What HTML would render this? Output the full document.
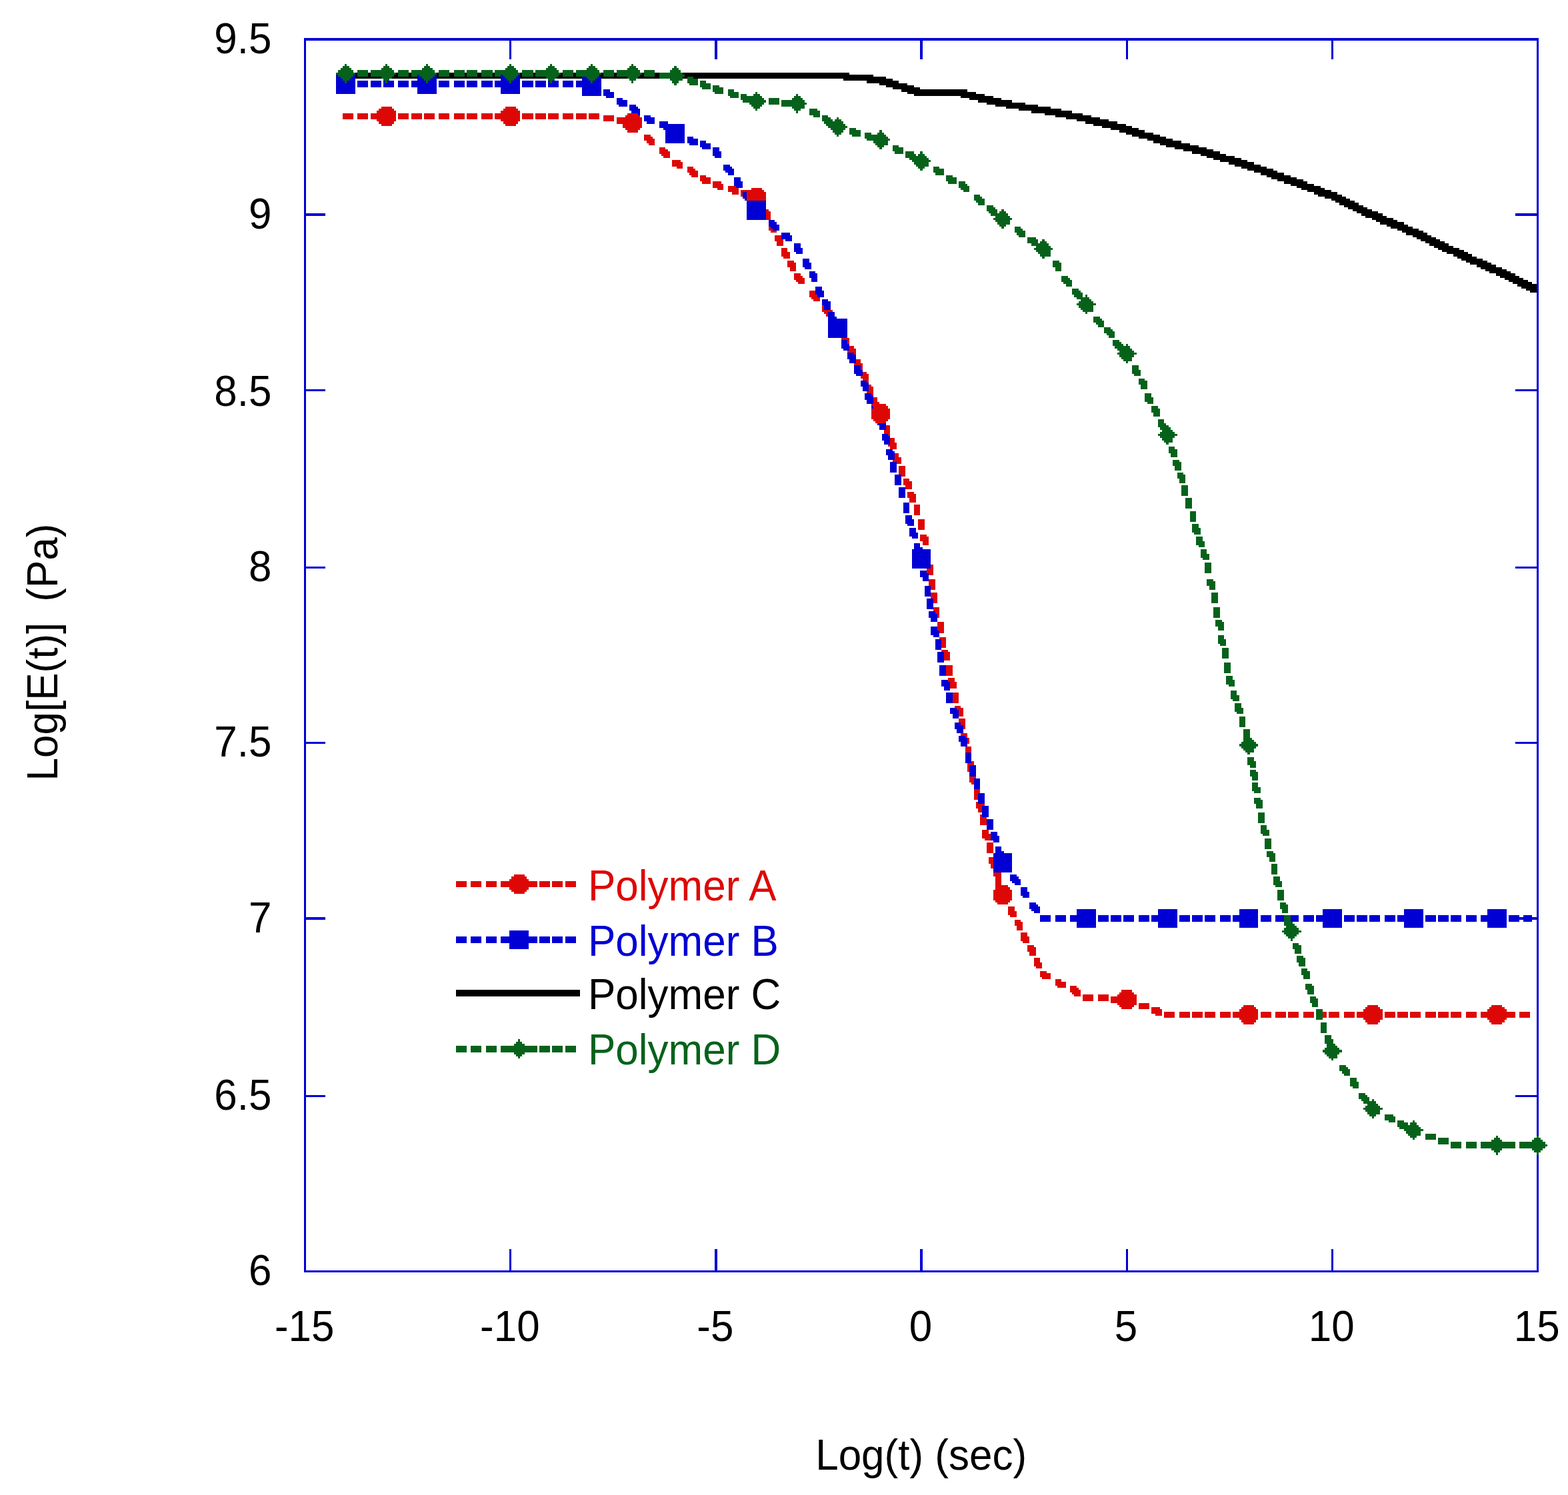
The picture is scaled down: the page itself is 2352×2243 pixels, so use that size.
<!DOCTYPE html>
<html lang="en">
<head>
<meta charset="utf-8">
<title>Log[E(t)] vs Log(t)</title>
<style>
html,body{margin:0;padding:0;background:#fff;}
body{width:2352px;height:2243px;overflow:hidden;}
svg{display:block;}
text{font-family:"Liberation Sans",Arial,Helvetica,sans-serif;font-size:62px;fill:#000;}
</style>
</head>
<body>
<svg width="2352" height="2243" viewBox="0 0 2352 2243">
<rect width="2352" height="2243" fill="#fff"/>
<g shape-rendering="crispEdges">
<path fill="#0000d4" d="M456.1 57.3H2307.91V60.51H456.1ZM456.1 1905.9H2307.91V1909.11H456.1ZM456.1 60.51H459.31V320.47H456.1ZM456.1 323.68H459.31V583.64H456.1ZM456.1 586.85H459.31V850.02H456.1ZM456.1 853.22H459.31V1113.18H456.1ZM456.1 1116.39H459.31V1376.35H456.1ZM456.1 1379.56H459.31V1642.73H456.1ZM456.1 1645.94H459.31V1905.9H456.1ZM764.2 60.51H767.41V89.39H764.2ZM764.2 1873.81H767.41V1905.9H764.2ZM1072.3 60.51H1075.51V89.39H1072.3ZM1072.3 1873.81H1075.51V1905.9H1072.3ZM1380.4 60.51H1383.61V89.39H1380.4ZM1380.4 1873.81H1383.61V1905.9H1380.4ZM1688.5 60.51H1691.71V89.39H1688.5ZM1688.5 1873.81H1691.71V1905.9H1688.5ZM1996.6 60.51H1999.81V89.39H1996.6ZM1996.6 1873.81H1999.81V1905.9H1996.6ZM2304.7 60.51H2307.91V320.47H2304.7ZM2304.7 323.68H2307.91V583.64H2304.7ZM2304.7 586.85H2307.91V850.02H2304.7ZM2304.7 853.22H2307.91V1113.18H2304.7ZM2304.7 1116.39H2307.91V1376.35H2304.7ZM2304.7 1379.56H2307.91V1642.73H2304.7ZM2304.7 1645.94H2307.91V1905.9H2304.7ZM456.1 320.47H488.19V323.68H456.1ZM456.1 583.64H488.19V586.85H456.1ZM456.1 850.02H488.19V853.22H456.1ZM456.1 1113.18H488.19V1116.39H456.1ZM456.1 1376.35H488.19V1379.56H456.1ZM456.1 1642.73H488.19V1645.94H456.1ZM2272.61 320.47H2307.91V323.68H2272.61ZM2272.61 583.64H2307.91V586.85H2272.61ZM2272.61 850.02H2307.91V853.22H2272.61ZM2272.61 1113.18H2307.91V1116.39H2272.61ZM2272.61 1376.35H2307.91V1379.56H2272.61ZM2272.61 1642.73H2307.91V1645.94H2272.61Z"/>
<path fill="#dd0806" d="M513.87 169.63H529.92V179.26H513.87ZM536.33 169.63H552.38V179.26H536.33ZM555.59 169.63H571.64V179.26H555.59ZM574.85 169.63H590.89V179.26H574.85ZM597.31 169.63H613.36V179.26H597.31ZM616.57 169.63H632.62V179.26H616.57ZM635.83 169.63H651.87V179.26H635.83ZM658.29 169.63H674.34V179.26H658.29ZM680.76 169.63H696.8V179.26H680.76ZM700.01 169.63H716.06V179.26H700.01ZM722.48 169.63H738.52V179.26H722.48ZM741.73 169.63H757.78V179.26H741.73ZM760.99 169.63H777.04V179.26H760.99ZM783.46 169.63H799.5V179.26H783.46ZM802.71 169.63H818.76V179.26H802.71ZM821.97 169.63H838.02V179.26H821.97ZM844.43 169.63H860.48V179.26H844.43ZM863.69 169.63H879.74V179.26H863.69ZM882.95 169.63H898.99V179.26H882.95ZM905.41 172.84H921.46V182.47H905.41ZM924.67 176.05H940.72V185.68H924.67ZM943.92 179.26H953.55V182.47H943.92ZM943.92 182.47H956.76V185.68H943.92ZM943.92 185.68H959.97V188.88H943.92ZM947.13 188.88H959.97V192.09H947.13ZM950.34 192.09H959.97V195.3H950.34ZM966.39 201.72H976.02V204.93H966.39ZM966.39 204.93H979.23V208.14H966.39ZM966.39 208.14H982.44V211.35H966.39ZM969.6 211.35H982.44V214.56H969.6ZM972.81 214.56H982.44V217.77H972.81ZM988.86 220.98H998.48V224.19H988.86ZM988.86 224.19H1001.69V227.4H988.86ZM988.86 227.4H1004.9V230.61H988.86ZM992.07 230.61H1004.9V233.82H992.07ZM995.27 233.82H1004.9V237.02H995.27ZM1008.11 240.23H1020.95V243.44H1008.11ZM1008.11 243.44H1024.16V249.86H1008.11ZM1014.53 249.86H1024.16V253.07H1014.53ZM1030.58 249.86H1040.21V253.07H1030.58ZM1030.58 253.07H1043.42V256.28H1030.58ZM1030.58 256.28H1046.62V259.49H1030.58ZM1033.79 259.49H1046.62V262.7H1033.79ZM1037 262.7H1046.62V265.91H1037ZM1049.83 262.7H1059.46V265.91H1049.83ZM1049.83 265.91H1065.88V272.33H1049.83ZM1053.04 272.33H1065.88V275.54H1053.04ZM1069.09 272.33H1081.93V275.54H1069.09ZM1069.09 275.54H1085.14V281.96H1069.09ZM1091.56 278.75H1104.39V281.96H1091.56ZM1075.51 281.96H1085.14V285.17H1075.51ZM1091.56 281.96H1107.6V288.38H1091.56ZM1110.81 285.17H1123.65V288.38H1110.81ZM1097.97 288.38H1107.6V291.58H1097.97ZM1110.81 288.38H1126.86V294.79H1110.81ZM1130.07 291.58H1139.7V294.79H1130.07ZM1117.23 294.79H1126.86V298H1117.23ZM1130.07 294.79H1142.91V301.21H1130.07ZM1133.28 301.21H1142.91V307.63H1133.28ZM1142.91 314.05H1152.53V317.26H1142.91ZM1142.91 317.26H1155.74V323.68H1142.91ZM1146.12 323.68H1155.74V330.1H1146.12ZM1152.53 333.31H1162.16V339.72H1152.53ZM1152.53 339.72H1165.37V346.14H1152.53ZM1155.74 346.14H1165.37V349.35H1155.74ZM1162.16 352.56H1171.79V355.77H1162.16ZM1162.16 355.77H1175V362.19H1162.16ZM1165.37 362.19H1175V368.61H1165.37ZM1171.79 371.82H1181.42V378.24H1171.79ZM1171.79 378.24H1184.63V384.66H1171.79ZM1175 384.66H1184.63V387.87H1175ZM1181.42 391.07H1191.05V394.28H1181.42ZM1181.42 394.28H1194.26V400.7H1181.42ZM1184.63 400.7H1194.26V407.12H1184.63ZM1191.05 410.33H1200.67V413.54H1191.05ZM1191.05 413.54H1203.88V416.75H1191.05ZM1191.05 416.75H1207.09V419.96H1191.05ZM1194.26 419.96H1207.09V423.17H1194.26ZM1197.47 423.17H1207.09V426.38H1197.47ZM1213.51 436.01H1223.14V439.22H1213.51ZM1213.51 439.22H1226.35V442.42H1213.51ZM1213.51 442.42H1229.56V445.63H1213.51ZM1216.72 445.63H1229.56V448.84H1216.72ZM1219.93 448.84H1229.56V452.05H1219.93ZM1232.77 458.47H1242.4V461.68H1232.77ZM1232.77 461.68H1245.61V464.89H1232.77ZM1232.77 464.89H1248.82V468.1H1232.77ZM1235.98 468.1H1248.82V471.31H1235.98ZM1239.19 471.31H1248.82V474.52H1239.19ZM1252.03 477.73H1261.65V480.94H1252.03ZM1252.03 480.94H1264.86V487.36H1252.03ZM1255.23 487.36H1264.86V493.77H1255.23ZM1261.65 500.19H1271.28V506.61H1261.65ZM1261.65 506.61H1274.49V513.03H1261.65ZM1264.86 513.03H1274.49V516.24H1264.86ZM1271.28 519.45H1280.91V522.66H1271.28ZM1271.28 522.66H1284.12V529.08H1271.28ZM1274.49 529.08H1284.12V535.5H1274.49ZM1280.91 538.71H1290.54V545.12H1280.91ZM1280.91 545.12H1293.75V551.54H1280.91ZM1284.12 551.54H1293.75V554.75H1284.12ZM1290.54 557.96H1300.17V561.17H1290.54ZM1290.54 561.17H1303.38V567.59H1290.54ZM1293.75 567.59H1303.38V574.01H1293.75ZM1296.96 577.22H1306.58V580.43H1296.96ZM1296.96 580.43H1309.79V586.85H1296.96ZM1300.17 586.85H1309.79V593.27H1300.17ZM1306.58 596.47H1316.21V602.89H1306.58ZM1306.58 602.89H1319.42V609.31H1306.58ZM1309.79 609.31H1319.42V612.52H1309.79ZM1316.21 615.73H1325.84V618.94H1316.21ZM1316.21 618.94H1329.05V625.36H1316.21ZM1319.42 625.36H1329.05V631.78H1319.42ZM1325.84 638.2H1335.47V654.24H1325.84ZM1332.26 657.45H1341.89V663.87H1332.26ZM1332.26 663.87H1345.1V670.29H1332.26ZM1335.47 670.29H1345.1V673.5H1335.47ZM1338.68 679.92H1348.31V686.34H1338.68ZM1338.68 686.34H1351.52V692.76H1338.68ZM1341.89 692.76H1351.52V695.97H1341.89ZM1348.31 699.17H1357.93V715.22H1348.31ZM1354.72 718.43H1364.35V721.64H1354.72ZM1354.72 721.64H1367.56V728.06H1354.72ZM1357.93 728.06H1367.56V734.48H1357.93ZM1361.14 737.69H1370.77V740.9H1361.14ZM1361.14 740.9H1373.98V747.32H1361.14ZM1364.35 747.32H1373.98V753.73H1364.35ZM1370.77 756.94H1380.4V772.99H1370.77ZM1377.19 779.41H1386.82V795.46H1377.19ZM1380.4 801.87H1390.03V805.08H1380.4ZM1380.4 805.08H1393.24V811.5H1380.4ZM1383.61 811.5H1393.24V817.92H1383.61ZM1383.61 824.34H1393.24V830.76H1383.61ZM1383.61 830.76H1396.45V837.18H1383.61ZM1386.82 837.18H1396.45V840.39H1386.82ZM1390.03 846.81H1399.66V862.85H1390.03ZM1393.24 869.27H1402.87V885.32H1393.24ZM1396.45 888.53H1406.07V904.57H1396.45ZM1399.66 910.99H1409.28V927.04H1399.66ZM1406.07 933.46H1415.7V949.51H1406.07ZM1409.28 955.92H1418.91V971.97H1409.28ZM1412.49 975.18H1422.12V978.39H1412.49ZM1412.49 978.39H1425.33V984.81H1412.49ZM1415.7 984.81H1425.33V991.23H1415.7ZM1418.91 997.65H1428.54V1013.69H1418.91ZM1422.12 1016.9H1431.75V1023.32H1422.12ZM1422.12 1023.32H1434.96V1029.74H1422.12ZM1425.33 1029.74H1434.96V1032.95H1425.33ZM1428.54 1039.37H1438.17V1055.42H1428.54ZM1431.75 1058.62H1441.38V1061.83H1431.75ZM1431.75 1061.83H1444.59V1068.25H1431.75ZM1434.96 1068.25H1444.59V1074.67H1434.96ZM1438.17 1077.88H1447.8V1093.93H1438.17ZM1441.38 1100.35H1451.01V1106.77H1441.38ZM1441.38 1106.77H1454.22V1113.18H1441.38ZM1444.59 1113.18H1454.22V1116.39H1444.59ZM1447.8 1119.6H1457.42V1135.65H1447.8ZM1451.01 1142.07H1460.63V1158.12H1451.01ZM1454.22 1161.32H1463.84V1167.74H1454.22ZM1454.22 1167.74H1467.05V1174.16H1454.22ZM1457.42 1174.16H1467.05V1177.37H1457.42ZM1460.63 1183.79H1470.26V1199.84H1460.63ZM1463.84 1203.05H1473.47V1206.26H1463.84ZM1463.84 1206.26H1476.68V1212.67H1463.84ZM1467.05 1212.67H1476.68V1219.09H1467.05ZM1470.26 1222.3H1479.89V1238.35H1470.26ZM1473.47 1244.77H1483.1V1251.19H1473.47ZM1473.47 1251.19H1486.31V1257.61H1473.47ZM1476.68 1257.61H1486.31V1260.82H1476.68ZM1479.89 1264.02H1489.52V1280.07H1479.89ZM1483.1 1286.49H1492.73V1289.7H1483.1ZM1483.1 1289.7H1495.94V1296.12H1483.1ZM1486.31 1296.12H1495.94V1302.54H1486.31ZM1489.52 1305.75H1499.15V1308.96H1489.52ZM1489.52 1308.96H1502.36V1315.37H1489.52ZM1492.73 1315.37H1502.36V1328.21H1492.73ZM1492.73 1328.21H1505.57V1334.63H1492.73ZM1495.94 1334.63H1505.57V1337.84H1495.94ZM1499.15 1337.84H1508.78V1344.26H1499.15ZM1499.15 1344.26H1511.98V1350.68H1499.15ZM1502.36 1350.68H1511.98V1353.89H1502.36ZM1511.98 1360.31H1521.61V1366.72H1511.98ZM1511.98 1366.72H1524.82V1373.14H1511.98ZM1515.19 1373.14H1524.82V1376.35H1515.19ZM1521.61 1379.56H1531.24V1382.77H1521.61ZM1521.61 1382.77H1534.45V1389.19H1521.61ZM1524.82 1389.19H1534.45V1395.61H1524.82ZM1531.24 1398.82H1540.87V1405.24H1531.24ZM1531.24 1405.24H1544.08V1411.66H1531.24ZM1534.45 1411.66H1544.08V1414.87H1534.45ZM1540.87 1418.07H1550.5V1421.28H1540.87ZM1540.87 1421.28H1553.71V1427.7H1540.87ZM1544.08 1427.7H1553.71V1434.12H1544.08ZM1550.5 1437.33H1560.12V1443.75H1550.5ZM1550.5 1443.75H1563.33V1450.17H1550.5ZM1553.71 1450.17H1563.33V1453.38H1553.71ZM1560.12 1456.59H1569.75V1459.8H1560.12ZM1560.12 1459.8H1576.17V1466.22H1560.12ZM1563.33 1466.22H1576.17V1469.42H1563.33ZM1582.59 1469.42H1592.22V1472.63H1582.59ZM1582.59 1472.63H1598.64V1479.05H1582.59ZM1585.8 1479.05H1598.64V1482.26H1585.8ZM1605.06 1479.05H1614.68V1482.26H1605.06ZM1605.06 1482.26H1617.89V1485.47H1605.06ZM1605.06 1485.47H1621.1V1488.68H1605.06ZM1608.27 1488.68H1621.1V1491.89H1608.27ZM1611.47 1491.89H1621.1V1495.1H1611.47ZM1624.31 1491.89H1640.36V1501.52H1624.31ZM1646.78 1491.89H1662.82V1501.52H1646.78ZM1666.03 1495.1H1682.08V1504.73H1666.03ZM1685.29 1495.1H1694.92V1498.31H1685.29ZM1685.29 1498.31H1701.34V1504.73H1685.29ZM1688.5 1504.73H1701.34V1507.94H1688.5ZM1707.76 1504.73H1723.8V1514.36H1707.76ZM1727.01 1511.15H1739.85V1514.36H1727.01ZM1727.01 1514.36H1743.06V1520.77H1727.01ZM1746.27 1517.57H1762.32V1527.19H1746.27ZM1768.73 1517.57H1784.78V1527.19H1768.73ZM1787.99 1517.57H1804.04V1527.19H1787.99ZM1807.25 1517.57H1823.29V1527.19H1807.25ZM1829.71 1517.57H1845.76V1527.19H1829.71ZM1848.97 1517.57H1865.02V1527.19H1848.97ZM1868.22 1517.57H1884.27V1527.19H1868.22ZM1890.69 1517.57H1906.74V1527.19H1890.69ZM1913.16 1517.57H1929.2V1527.19H1913.16ZM1932.41 1517.57H1948.46V1527.19H1932.41ZM1954.88 1517.57H1970.92V1527.19H1954.88ZM1974.13 1517.57H1990.18V1527.19H1974.13ZM1993.39 1517.57H2009.44V1527.19H1993.39ZM2015.86 1517.57H2031.9V1527.19H2015.86ZM2035.11 1517.57H2051.16V1527.19H2035.11ZM2054.37 1517.57H2070.42V1527.19H2054.37ZM2076.83 1517.57H2092.88V1527.19H2076.83ZM2096.09 1517.57H2112.14V1527.19H2096.09ZM2115.35 1517.57H2131.39V1527.19H2115.35ZM2137.81 1517.57H2153.86V1527.19H2137.81ZM2157.07 1517.57H2173.12V1527.19H2157.07ZM2176.32 1517.57H2192.37V1527.19H2176.32ZM2198.79 1517.57H2214.84V1527.19H2198.79ZM2221.26 1517.57H2237.3V1527.19H2221.26ZM2256.56 1517.57H2272.61V1527.19H2256.56ZM2279.02 1517.57H2295.07V1527.19H2279.02ZM1733.43 1520.77H1743.06V1523.98H1733.43Z"/>
<path fill="#0000d4" d="M513.87 121.49H529.92V131.12H513.87ZM536.33 121.49H552.38V131.12H536.33ZM555.59 121.49H571.64V131.12H555.59ZM574.85 121.49H590.89V131.12H574.85ZM597.31 121.49H613.36V131.12H597.31ZM616.57 121.49H632.62V131.12H616.57ZM635.83 121.49H651.87V131.12H635.83ZM658.29 121.49H674.34V131.12H658.29ZM680.76 121.49H696.8V131.12H680.76ZM700.01 121.49H716.06V131.12H700.01ZM722.48 121.49H738.52V131.12H722.48ZM741.73 121.49H757.78V131.12H741.73ZM760.99 121.49H777.04V131.12H760.99ZM783.46 121.49H799.5V131.12H783.46ZM802.71 121.49H818.76V131.12H802.71ZM821.97 121.49H838.02V131.12H821.97ZM844.43 121.49H860.48V131.12H844.43ZM863.69 121.49H879.74V131.12H863.69ZM882.95 121.49H892.58V124.7H882.95ZM882.95 124.7H898.99V131.12H882.95ZM886.16 131.12H898.99V134.32H886.16ZM905.41 134.32H915.04V137.53H905.41ZM905.41 137.53H921.46V143.95H905.41ZM908.62 143.95H921.46V147.16H908.62ZM924.67 147.16H934.3V150.37H924.67ZM924.67 150.37H940.72V156.79H924.67ZM927.88 156.79H940.72V160H927.88ZM943.92 156.79H953.55V160H943.92ZM943.92 160H956.76V163.21H943.92ZM943.92 163.21H959.97V166.42H943.92ZM947.13 166.42H959.97V169.63H947.13ZM950.34 169.63H959.97V172.84H950.34ZM966.39 172.84H976.02V176.05H966.39ZM966.39 176.05H982.44V182.47H966.39ZM969.6 182.47H982.44V185.68H969.6ZM988.86 182.47H1001.69V185.68H988.86ZM988.86 185.68H1004.9V192.09H988.86ZM995.27 192.09H1004.9V195.3H995.27ZM1008.11 195.3H1020.95V198.51H1008.11ZM1008.11 198.51H1024.16V204.93H1008.11ZM1014.53 204.93H1024.16V208.14H1014.53ZM1030.58 204.93H1040.21V208.14H1030.58ZM1030.58 208.14H1046.62V214.56H1030.58ZM1049.83 211.35H1059.46V214.56H1049.83ZM1033.79 214.56H1046.62V217.77H1033.79ZM1049.83 214.56H1065.88V220.98H1049.83ZM1053.04 220.98H1065.88V224.19H1053.04ZM1069.09 220.98H1078.72V227.4H1069.09ZM1069.09 227.4H1081.93V233.82H1069.09ZM1072.3 233.82H1081.93V237.02H1072.3ZM1085.14 246.65H1094.77V249.86H1085.14ZM1085.14 249.86H1097.97V253.07H1085.14ZM1085.14 253.07H1101.18V256.28H1085.14ZM1088.35 256.28H1101.18V259.49H1088.35ZM1091.56 259.49H1101.18V262.7H1091.56ZM1101.18 265.91H1110.81V272.33H1101.18ZM1101.18 272.33H1114.02V278.75H1101.18ZM1104.39 278.75H1114.02V281.96H1104.39ZM1114.02 288.38H1123.65V291.58H1114.02ZM1114.02 291.58H1126.86V294.79H1114.02ZM1114.02 294.79H1130.07V298H1114.02ZM1117.23 298H1130.07V301.21H1117.23ZM1120.44 301.21H1130.07V304.42H1120.44ZM1130.07 310.84H1139.7V314.05H1130.07ZM1130.07 314.05H1142.91V317.26H1130.07ZM1130.07 317.26H1146.12V320.47H1130.07ZM1133.28 320.47H1146.12V323.68H1133.28ZM1136.49 323.68H1146.12V326.89H1136.49ZM1152.53 330.1H1162.16V333.31H1152.53ZM1152.53 333.31H1165.37V336.52H1152.53ZM1152.53 336.52H1168.58V339.72H1152.53ZM1155.74 339.72H1168.58V342.93H1155.74ZM1158.95 342.93H1168.58V346.14H1158.95ZM1171.79 349.35H1184.63V352.56H1171.79ZM1171.79 352.56H1187.84V358.98H1171.79ZM1178.21 358.98H1187.84V362.19H1178.21ZM1191.05 365.4H1200.67V371.82H1191.05ZM1191.05 371.82H1203.88V378.24H1191.05ZM1194.26 378.24H1203.88V381.45H1194.26ZM1203.88 387.87H1213.51V394.28H1203.88ZM1203.88 394.28H1216.72V400.7H1203.88ZM1207.09 400.7H1216.72V403.91H1207.09ZM1213.51 407.12H1223.14V410.33H1213.51ZM1213.51 410.33H1226.35V416.75H1213.51ZM1216.72 416.75H1226.35V423.17H1216.72ZM1223.14 429.59H1232.77V436.01H1223.14ZM1223.14 436.01H1235.98V442.42H1223.14ZM1226.35 442.42H1235.98V445.63H1226.35ZM1232.77 448.84H1242.4V452.05H1232.77ZM1232.77 452.05H1245.61V458.47H1232.77ZM1235.98 458.47H1245.61V464.89H1235.98ZM1242.4 468.1H1252.03V474.52H1242.4ZM1242.4 474.52H1255.23V480.94H1242.4ZM1245.61 480.94H1255.23V484.15H1245.61ZM1252.03 487.36H1261.65V490.57H1252.03ZM1252.03 490.57H1264.86V496.98H1252.03ZM1255.23 496.98H1264.86V503.4H1255.23ZM1261.65 509.82H1271.28V516.24H1261.65ZM1261.65 516.24H1274.49V522.66H1261.65ZM1264.86 522.66H1274.49V525.87H1264.86ZM1271.28 529.08H1280.91V532.29H1271.28ZM1271.28 532.29H1284.12V538.71H1271.28ZM1274.49 538.71H1284.12V545.12H1274.49ZM1280.91 548.33H1290.54V554.75H1280.91ZM1280.91 554.75H1293.75V561.17H1280.91ZM1284.12 561.17H1293.75V564.38H1284.12ZM1290.54 570.8H1300.17V574.01H1290.54ZM1290.54 574.01H1303.38V580.43H1290.54ZM1293.75 580.43H1303.38V586.85H1293.75ZM1296.96 590.06H1306.58V593.27H1296.96ZM1296.96 593.27H1309.79V599.68H1296.96ZM1300.17 599.68H1309.79V606.1H1300.17ZM1306.58 609.31H1316.21V615.73H1306.58ZM1306.58 615.73H1319.42V622.15H1306.58ZM1309.79 622.15H1319.42V625.36H1309.79ZM1316.21 628.57H1325.84V631.78H1316.21ZM1316.21 631.78H1329.05V638.2H1316.21ZM1319.42 638.2H1329.05V644.62H1319.42ZM1322.63 651.03H1332.26V654.24H1322.63ZM1322.63 654.24H1335.47V660.66H1322.63ZM1325.84 660.66H1335.47V667.08H1325.84ZM1329.05 673.5H1338.68V676.71H1329.05ZM1329.05 676.71H1341.89V683.13H1329.05ZM1332.26 683.13H1341.89V689.55H1332.26ZM1335.47 692.76H1345.1V708.8H1335.47ZM1341.89 712.01H1351.52V728.06H1341.89ZM1348.31 731.27H1357.93V747.32H1348.31ZM1354.72 753.73H1364.35V769.78H1354.72ZM1357.93 772.99H1367.56V779.41H1357.93ZM1357.93 779.41H1370.77V785.83H1357.93ZM1361.14 785.83H1370.77V789.04H1361.14ZM1364.35 792.25H1373.98V798.67H1364.35ZM1364.35 798.67H1377.19V805.08H1364.35ZM1367.56 805.08H1377.19V808.29H1367.56ZM1370.77 814.71H1380.4V821.13H1370.77ZM1370.77 821.13H1383.61V827.55H1370.77ZM1373.98 827.55H1383.61V830.76H1373.98ZM1377.19 833.97H1386.82V850.02H1377.19ZM1380.4 856.43H1390.03V859.64H1380.4ZM1380.4 859.64H1393.24V866.06H1380.4ZM1383.61 866.06H1393.24V872.48H1383.61ZM1386.82 878.9H1396.45V894.95H1386.82ZM1390.03 898.16H1399.66V914.2H1390.03ZM1393.24 917.41H1402.87V920.62H1393.24ZM1393.24 920.62H1406.07V927.04H1393.24ZM1396.45 927.04H1406.07V933.46H1396.45ZM1396.45 939.88H1406.07V946.3H1396.45ZM1396.45 946.3H1409.28V952.72H1396.45ZM1399.66 952.72H1409.28V955.92H1399.66ZM1402.87 959.13H1412.49V975.18H1402.87ZM1406.07 978.39H1415.7V994.44H1406.07ZM1409.28 997.65H1418.91V1013.69H1409.28ZM1412.49 1020.11H1422.12V1023.32H1412.49ZM1412.49 1023.32H1425.33V1029.74H1412.49ZM1415.7 1029.74H1425.33V1036.16H1415.7ZM1418.91 1039.37H1428.54V1055.42H1418.91ZM1425.33 1061.83H1434.96V1065.04H1425.33ZM1425.33 1065.04H1438.17V1071.46H1425.33ZM1428.54 1071.46H1438.17V1077.88H1428.54ZM1431.75 1084.3H1441.38V1087.51H1431.75ZM1431.75 1087.51H1444.59V1093.93H1431.75ZM1434.96 1093.93H1444.59V1100.35H1434.96ZM1438.17 1103.56H1447.8V1106.77H1438.17ZM1438.17 1106.77H1451.01V1113.18H1438.17ZM1441.38 1113.18H1451.01V1119.6H1441.38ZM1447.8 1129.23H1457.42V1145.28H1447.8ZM1454.22 1148.49H1463.84V1164.53H1454.22ZM1460.63 1167.74H1470.26V1183.79H1460.63ZM1467.05 1190.21H1476.68V1206.26H1467.05ZM1473.47 1209.47H1483.1V1225.51H1473.47ZM1479.89 1228.72H1489.52V1244.77H1479.89ZM1486.31 1247.98H1495.94V1254.4H1486.31ZM1486.31 1254.4H1499.15V1260.82H1486.31ZM1489.52 1260.82H1499.15V1264.02H1489.52ZM1492.73 1270.44H1502.36V1276.86H1492.73ZM1492.73 1276.86H1505.57V1283.28H1492.73ZM1495.94 1283.28H1505.57V1286.49H1495.94ZM1499.15 1289.7H1508.78V1296.12H1499.15ZM1499.15 1296.12H1511.98V1302.54H1499.15ZM1502.36 1302.54H1511.98V1305.75H1502.36ZM1515.19 1312.17H1524.82V1315.37H1515.19ZM1515.19 1315.37H1528.03V1318.58H1515.19ZM1515.19 1318.58H1531.24V1321.79H1515.19ZM1518.4 1321.79H1531.24V1325H1518.4ZM1521.61 1325H1531.24V1328.21H1521.61ZM1531.24 1331.42H1540.87V1337.84H1531.24ZM1531.24 1337.84H1544.08V1344.26H1531.24ZM1534.45 1344.26H1544.08V1347.47H1534.45ZM1544.08 1353.89H1553.71V1357.1H1544.08ZM1544.08 1357.1H1556.92V1360.31H1544.08ZM1544.08 1360.31H1560.12V1363.52H1544.08ZM1547.29 1363.52H1560.12V1366.72H1547.29ZM1550.5 1366.72H1560.12V1369.93H1550.5ZM1560.12 1373.14H1576.17V1382.77H1560.12ZM1582.59 1373.14H1598.64V1382.77H1582.59ZM1605.06 1373.14H1621.1V1382.77H1605.06ZM1624.31 1373.14H1640.36V1382.77H1624.31ZM1646.78 1373.14H1662.82V1382.77H1646.78ZM1666.03 1373.14H1682.08V1382.77H1666.03ZM1685.29 1373.14H1701.34V1382.77H1685.29ZM1707.76 1373.14H1723.8V1382.77H1707.76ZM1727.01 1373.14H1743.06V1382.77H1727.01ZM1746.27 1373.14H1762.32V1382.77H1746.27ZM1768.73 1373.14H1784.78V1382.77H1768.73ZM1787.99 1373.14H1804.04V1382.77H1787.99ZM1807.25 1373.14H1823.29V1382.77H1807.25ZM1829.71 1373.14H1845.76V1382.77H1829.71ZM1848.97 1373.14H1865.02V1382.77H1848.97ZM1868.22 1373.14H1884.27V1382.77H1868.22ZM1890.69 1373.14H1906.74V1382.77H1890.69ZM1913.16 1373.14H1929.2V1382.77H1913.16ZM1932.41 1373.14H1948.46V1382.77H1932.41ZM1954.88 1373.14H1970.92V1382.77H1954.88ZM1974.13 1373.14H1990.18V1382.77H1974.13ZM1993.39 1373.14H2009.44V1382.77H1993.39ZM2015.86 1373.14H2031.9V1382.77H2015.86ZM2035.11 1373.14H2051.16V1382.77H2035.11ZM2054.37 1373.14H2070.42V1382.77H2054.37ZM2076.83 1373.14H2092.88V1382.77H2076.83ZM2096.09 1373.14H2112.14V1382.77H2096.09ZM2115.35 1373.14H2131.39V1382.77H2115.35ZM2137.81 1373.14H2153.86V1382.77H2137.81ZM2157.07 1373.14H2173.12V1382.77H2157.07ZM2176.32 1373.14H2192.37V1382.77H2176.32ZM2198.79 1373.14H2214.84V1382.77H2198.79ZM2221.26 1373.14H2237.3V1382.77H2221.26ZM2262.98 1373.14H2279.02V1382.77H2262.98ZM2285.44 1373.14H2298.28V1382.77H2285.44Z"/>
<path fill="#000000" d="M510.66 108.65H1274.49V111.86H510.66ZM510.66 111.86H1309.79V115.07H510.66ZM510.66 115.07H1329.05V118.28H510.66ZM1264.86 118.28H1338.68V121.49H1264.86ZM1300.17 121.49H1348.31V124.7H1300.17ZM1319.42 124.7H1361.14V127.91H1319.42ZM1329.05 127.91H1370.77V131.12H1329.05ZM1338.68 131.12H1380.4V134.32H1338.68ZM1351.52 134.32H1451.01V137.53H1351.52ZM1361.14 137.53H1463.84V140.74H1361.14ZM1370.77 140.74H1476.68V143.95H1370.77ZM1441.38 143.95H1489.52V147.16H1441.38ZM1454.22 147.16H1502.36V150.37H1454.22ZM1467.05 150.37H1518.4V153.58H1467.05ZM1479.89 153.58H1537.66V156.79H1479.89ZM1492.73 156.79H1556.92V160H1492.73ZM1508.78 160H1576.17V163.21H1508.78ZM1528.03 163.21H1592.22V166.42H1528.03ZM1547.29 166.42H1608.27V169.63H1547.29ZM1566.54 169.63H1624.31V172.84H1566.54ZM1582.59 172.84H1637.15V176.05H1582.59ZM1598.64 176.05H1649.99V179.26H1598.64ZM1614.68 179.26H1662.82V182.47H1614.68ZM1627.52 182.47H1675.66V185.68H1627.52ZM1640.36 185.68H1688.5V188.88H1640.36ZM1653.2 188.88H1698.13V192.09H1653.2ZM1666.03 192.09H1707.76V195.3H1666.03ZM1678.87 195.3H1717.38V198.51H1678.87ZM1688.5 198.51H1730.22V201.72H1688.5ZM1698.13 201.72H1739.85V204.93H1698.13ZM1707.76 204.93H1749.48V208.14H1707.76ZM1720.59 208.14H1759.11V211.35H1720.59ZM1730.22 211.35H1771.94V214.56H1730.22ZM1739.85 214.56H1784.78V217.77H1739.85ZM1749.48 217.77H1797.62V220.98H1749.48ZM1762.32 220.98H1810.46V224.19H1762.32ZM1775.15 224.19H1820.08V227.4H1775.15ZM1787.99 227.4H1829.71V230.61H1787.99ZM1800.83 230.61H1839.34V233.82H1800.83ZM1810.46 233.82H1852.18V237.02H1810.46ZM1820.08 237.02H1861.81V240.23H1820.08ZM1829.71 240.23H1871.43V243.44H1829.71ZM1842.55 243.44H1881.06V246.65H1842.55ZM1852.18 246.65H1890.69V249.86H1852.18ZM1861.81 249.86H1900.32V253.07H1861.81ZM1871.43 253.07H1909.95V256.28H1871.43ZM1881.06 256.28H1916.37V259.49H1881.06ZM1890.69 259.49H1925.99V262.7H1890.69ZM1900.32 262.7H1935.62V265.91H1900.32ZM1906.74 265.91H1945.25V269.12H1906.74ZM1916.37 269.12H1954.88V272.33H1916.37ZM1925.99 272.33H1961.3V275.54H1925.99ZM1935.62 275.54H1970.92V278.75H1935.62ZM1945.25 278.75H1980.55V281.96H1945.25ZM1951.67 281.96H1986.97V285.17H1951.67ZM1961.3 285.17H1996.6V288.38H1961.3ZM1970.92 288.38H2006.23V291.58H1970.92ZM1977.34 291.58H2012.65V294.79H1977.34ZM1986.97 294.79H2019.07V298H1986.97ZM1996.6 298H2025.48V301.21H1996.6ZM2003.02 301.21H2031.9V304.42H2003.02ZM2009.44 304.42H2038.32V307.63H2009.44ZM2015.86 307.63H2044.74V310.84H2015.86ZM2022.27 310.84H2051.16V314.05H2022.27ZM2028.69 314.05H2057.58V317.26H2028.69ZM2035.11 317.26H2067.21V320.47H2035.11ZM2041.53 320.47H2073.62V323.68H2041.53ZM2047.95 323.68H2080.04V326.89H2047.95ZM2057.58 326.89H2089.67V330.1H2057.58ZM2064 330.1H2096.09V333.31H2064ZM2070.42 333.31H2105.72V336.52H2070.42ZM2080.04 336.52H2112.14V339.72H2080.04ZM2086.46 339.72H2118.56V342.93H2086.46ZM2096.09 342.93H2128.18V346.14H2096.09ZM2102.51 346.14H2134.6V349.35H2102.51ZM2108.93 349.35H2141.02V352.56H2108.93ZM2118.56 352.56H2147.44V355.77H2118.56ZM2124.97 355.77H2153.86V358.98H2124.97ZM2131.39 358.98H2160.28V362.19H2131.39ZM2137.81 362.19H2166.7V365.4H2137.81ZM2144.23 365.4H2173.12V368.61H2144.23ZM2150.65 368.61H2179.53V371.82H2150.65ZM2157.07 371.82H2189.16V375.03H2157.07ZM2163.49 375.03H2195.58V378.24H2163.49ZM2169.91 378.24H2202V381.45H2169.91ZM2179.53 381.45H2208.42V384.66H2179.53ZM2185.95 384.66H2214.84V387.87H2185.95ZM2192.37 387.87H2224.47V391.07H2192.37ZM2198.79 391.07H2230.88V394.28H2198.79ZM2205.21 394.28H2237.3V397.49H2205.21ZM2214.84 397.49H2243.72V400.7H2214.84ZM2221.26 400.7H2253.35V403.91H2221.26ZM2227.67 403.91H2259.77V407.12H2227.67ZM2234.09 407.12H2266.19V410.33H2234.09ZM2243.72 410.33H2272.61V413.54H2243.72ZM2250.14 413.54H2279.02V416.75H2250.14ZM2256.56 416.75H2285.44V419.96H2256.56ZM2262.98 419.96H2291.86V423.17H2262.98ZM2269.4 423.17H2298.28V426.38H2269.4ZM2275.82 426.38H2304.7V429.59H2275.82ZM2282.23 429.59H2304.7V432.8H2282.23ZM2288.65 432.8H2304.7V436.01H2288.65ZM2295.07 436.01H2304.7V439.22H2295.07Z"/>
<path fill="#06621b" d="M513.87 105.44H529.92V115.07H513.87ZM536.33 105.44H552.38V115.07H536.33ZM555.59 105.44H571.64V115.07H555.59ZM574.85 105.44H590.89V115.07H574.85ZM597.31 105.44H613.36V115.07H597.31ZM616.57 105.44H632.62V115.07H616.57ZM635.83 105.44H651.87V115.07H635.83ZM658.29 105.44H674.34V115.07H658.29ZM680.76 105.44H696.8V115.07H680.76ZM700.01 105.44H716.06V115.07H700.01ZM722.48 105.44H738.52V115.07H722.48ZM741.73 105.44H757.78V115.07H741.73ZM760.99 105.44H777.04V115.07H760.99ZM783.46 105.44H799.5V115.07H783.46ZM802.71 105.44H818.76V115.07H802.71ZM821.97 105.44H838.02V115.07H821.97ZM844.43 105.44H860.48V115.07H844.43ZM863.69 105.44H879.74V115.07H863.69ZM882.95 105.44H898.99V115.07H882.95ZM905.41 105.44H921.46V115.07H905.41ZM924.67 105.44H940.72V115.07H924.67ZM943.92 105.44H959.97V115.07H943.92ZM966.39 105.44H982.44V115.07H966.39ZM988.86 108.65H1004.9V118.28H988.86ZM1008.11 108.65H1017.74V111.86H1008.11ZM1008.11 111.86H1024.16V118.28H1008.11ZM1030.58 115.07H1040.21V118.28H1030.58ZM1011.32 118.28H1024.16V121.49H1011.32ZM1030.58 118.28H1046.62V124.7H1030.58ZM1049.83 121.49H1059.46V124.7H1049.83ZM1033.79 124.7H1046.62V127.91H1033.79ZM1049.83 124.7H1065.88V131.12H1049.83ZM1069.09 127.91H1078.72V131.12H1069.09ZM1053.04 131.12H1065.88V134.32H1053.04ZM1069.09 131.12H1085.14V137.53H1069.09ZM1091.56 134.32H1101.18V137.53H1091.56ZM1072.3 137.53H1085.14V140.74H1072.3ZM1091.56 137.53H1107.6V143.95H1091.56ZM1110.81 140.74H1120.44V143.95H1110.81ZM1094.77 143.95H1107.6V147.16H1094.77ZM1110.81 143.95H1126.86V150.37H1110.81ZM1130.07 147.16H1146.12V156.79H1130.07ZM1152.53 147.16H1168.58V156.79H1152.53ZM1114.02 150.37H1126.86V153.58H1114.02ZM1171.79 150.37H1187.84V160H1171.79ZM1191.05 150.37H1203.88V153.58H1191.05ZM1191.05 153.58H1207.09V160H1191.05ZM1197.47 160H1207.09V163.21H1197.47ZM1213.51 163.21H1226.35V166.42H1213.51ZM1213.51 166.42H1229.56V172.84H1213.51ZM1219.93 172.84H1229.56V176.05H1219.93ZM1232.77 172.84H1242.4V176.05H1232.77ZM1232.77 176.05H1245.61V179.26H1232.77ZM1232.77 179.26H1248.82V182.47H1232.77ZM1235.98 182.47H1248.82V185.68H1235.98ZM1239.19 185.68H1248.82V188.88H1239.19ZM1252.03 185.68H1268.07V195.3H1252.03ZM1274.49 192.09H1284.12V195.3H1274.49ZM1274.49 195.3H1290.54V201.72H1274.49ZM1296.96 198.51H1306.58V201.72H1296.96ZM1277.7 201.72H1290.54V204.93H1277.7ZM1296.96 201.72H1313V208.14H1296.96ZM1316.21 204.93H1325.84V208.14H1316.21ZM1300.17 208.14H1313V211.35H1300.17ZM1316.21 208.14H1332.26V214.56H1316.21ZM1319.42 214.56H1332.26V217.77H1319.42ZM1338.68 217.77H1348.31V220.98H1338.68ZM1338.68 220.98H1354.72V227.4H1338.68ZM1341.89 227.4H1354.72V230.61H1341.89ZM1357.93 227.4H1370.77V230.61H1357.93ZM1357.93 230.61H1373.98V237.02H1357.93ZM1364.35 237.02H1373.98V240.23H1364.35ZM1377.19 237.02H1386.82V240.23H1377.19ZM1377.19 240.23H1393.24V246.65H1377.19ZM1380.4 246.65H1393.24V249.86H1380.4ZM1399.66 249.86H1409.28V253.07H1399.66ZM1399.66 253.07H1415.7V259.49H1399.66ZM1402.87 259.49H1415.7V262.7H1402.87ZM1418.91 262.7H1428.54V265.91H1418.91ZM1418.91 265.91H1434.96V272.33H1418.91ZM1422.12 272.33H1434.96V275.54H1422.12ZM1438.17 272.33H1447.8V275.54H1438.17ZM1438.17 275.54H1451.01V278.75H1438.17ZM1438.17 278.75H1454.22V281.96H1438.17ZM1441.38 281.96H1454.22V285.17H1441.38ZM1444.59 285.17H1454.22V288.38H1444.59ZM1460.63 291.58H1470.26V294.79H1460.63ZM1460.63 294.79H1473.47V298H1460.63ZM1460.63 298H1476.68V301.21H1460.63ZM1463.84 301.21H1476.68V304.42H1463.84ZM1467.05 304.42H1476.68V307.63H1467.05ZM1479.89 307.63H1489.52V310.84H1479.89ZM1479.89 310.84H1492.73V314.05H1479.89ZM1479.89 314.05H1495.94V317.26H1479.89ZM1483.1 317.26H1495.94V320.47H1483.1ZM1486.31 320.47H1495.94V323.68H1486.31ZM1499.15 323.68H1511.98V326.89H1499.15ZM1499.15 326.89H1515.19V333.31H1499.15ZM1505.57 333.31H1515.19V336.52H1505.57ZM1521.61 339.72H1531.24V342.93H1521.61ZM1521.61 342.93H1534.45V346.14H1521.61ZM1521.61 346.14H1537.66V349.35H1521.61ZM1524.82 349.35H1537.66V352.56H1524.82ZM1528.03 352.56H1537.66V355.77H1528.03ZM1540.87 355.77H1553.71V358.98H1540.87ZM1540.87 358.98H1556.92V365.4H1540.87ZM1547.29 365.4H1556.92V368.61H1547.29ZM1560.12 368.61H1569.75V371.82H1560.12ZM1560.12 371.82H1572.96V375.03H1560.12ZM1560.12 375.03H1576.17V378.24H1560.12ZM1563.33 378.24H1576.17V381.45H1563.33ZM1566.54 381.45H1576.17V384.66H1566.54ZM1579.38 391.07H1589.01V394.28H1579.38ZM1579.38 394.28H1592.22V400.7H1579.38ZM1582.59 400.7H1592.22V407.12H1582.59ZM1592.22 413.54H1601.85V416.75H1592.22ZM1592.22 416.75H1605.06V419.96H1592.22ZM1592.22 419.96H1608.27V423.17H1592.22ZM1595.43 423.17H1608.27V426.38H1595.43ZM1598.64 426.38H1608.27V429.59H1598.64ZM1608.27 432.8H1617.89V436.01H1608.27ZM1608.27 436.01H1621.1V439.22H1608.27ZM1608.27 439.22H1624.31V442.42H1608.27ZM1611.47 442.42H1624.31V445.63H1611.47ZM1614.68 445.63H1624.31V448.84H1614.68ZM1624.31 452.05H1633.94V455.26H1624.31ZM1624.31 455.26H1637.15V458.47H1624.31ZM1624.31 458.47H1640.36V461.68H1624.31ZM1627.52 461.68H1640.36V464.89H1627.52ZM1630.73 464.89H1640.36V468.1H1630.73ZM1640.36 474.52H1649.99V477.73H1640.36ZM1640.36 477.73H1653.2V480.94H1640.36ZM1640.36 480.94H1656.41V484.15H1640.36ZM1643.57 484.15H1656.41V487.36H1643.57ZM1646.78 487.36H1656.41V490.57H1646.78ZM1656.41 490.57H1666.03V493.77H1656.41ZM1656.41 493.77H1669.24V496.98H1656.41ZM1656.41 496.98H1672.45V500.19H1656.41ZM1659.62 500.19H1672.45V503.4H1659.62ZM1662.82 503.4H1672.45V506.61H1662.82ZM1669.24 509.82H1678.87V513.03H1669.24ZM1669.24 513.03H1682.08V516.24H1669.24ZM1669.24 516.24H1685.29V519.45H1669.24ZM1672.45 519.45H1685.29V522.66H1672.45ZM1675.66 522.66H1685.29V525.87H1675.66ZM1685.29 525.87H1694.92V532.29H1685.29ZM1685.29 532.29H1698.13V538.71H1685.29ZM1688.5 538.71H1698.13V541.92H1688.5ZM1698.13 548.33H1707.76V554.75H1698.13ZM1698.13 554.75H1710.97V561.17H1698.13ZM1701.34 561.17H1710.97V564.38H1701.34ZM1707.76 567.59H1717.38V570.8H1707.76ZM1707.76 570.8H1720.59V577.22H1707.76ZM1710.97 577.22H1720.59V583.64H1710.97ZM1717.38 590.06H1727.01V596.47H1717.38ZM1717.38 596.47H1730.22V602.89H1717.38ZM1720.59 602.89H1730.22V606.1H1720.59ZM1727.01 609.31H1736.64V612.52H1727.01ZM1727.01 612.52H1739.85V618.94H1727.01ZM1730.22 618.94H1739.85V625.36H1730.22ZM1736.64 628.57H1746.27V634.99H1736.64ZM1736.64 634.99H1749.48V641.41H1736.64ZM1739.85 641.41H1749.48V644.62H1739.85ZM1746.27 647.82H1755.9V651.03H1746.27ZM1746.27 651.03H1759.11V657.45H1746.27ZM1749.48 657.45H1759.11V663.87H1749.48ZM1752.69 670.29H1762.32V673.5H1752.69ZM1752.69 673.5H1765.53V679.92H1752.69ZM1755.9 679.92H1765.53V686.34H1755.9ZM1759.11 689.55H1768.73V692.76H1759.11ZM1759.11 692.76H1771.94V699.17H1759.11ZM1762.32 699.17H1771.94V705.59H1762.32ZM1765.53 708.8H1775.15V712.01H1765.53ZM1765.53 712.01H1778.36V718.43H1765.53ZM1768.73 718.43H1778.36V724.85H1768.73ZM1771.94 728.06H1781.57V744.11H1771.94ZM1778.36 747.32H1787.99V763.36H1778.36ZM1784.78 766.57H1794.41V782.62H1784.78ZM1787.99 785.83H1797.62V792.25H1787.99ZM1787.99 792.25H1800.83V798.67H1787.99ZM1791.2 798.67H1800.83V801.87H1791.2ZM1794.41 805.08H1804.04V811.5H1794.41ZM1794.41 811.5H1807.25V817.92H1794.41ZM1797.62 817.92H1807.25V821.13H1797.62ZM1800.83 824.34H1810.46V830.76H1800.83ZM1800.83 830.76H1813.67V837.18H1800.83ZM1804.04 837.18H1813.67V840.39H1804.04ZM1807.25 843.6H1816.88V859.64H1807.25ZM1810.46 869.27H1820.08V872.48H1810.46ZM1810.46 872.48H1823.29V878.9H1810.46ZM1813.67 878.9H1823.29V885.32H1813.67ZM1816.88 888.53H1826.5V904.57H1816.88ZM1820.08 910.99H1829.71V927.04H1820.08ZM1823.29 930.25H1832.92V933.46H1823.29ZM1823.29 933.46H1836.13V939.88H1823.29ZM1826.5 939.88H1836.13V946.3H1826.5ZM1826.5 952.72H1836.13V959.13H1826.5ZM1826.5 959.13H1839.34V965.55H1826.5ZM1829.71 965.55H1839.34V968.76H1829.71ZM1832.92 971.97H1842.55V988.02H1832.92ZM1836.13 994.44H1845.76V1010.48H1836.13ZM1839.34 1013.69H1848.97V1020.11H1839.34ZM1839.34 1020.11H1852.18V1026.53H1839.34ZM1842.55 1026.53H1852.18V1029.74H1842.55ZM1845.76 1036.16H1855.39V1042.58H1845.76ZM1845.76 1042.58H1858.6V1049H1845.76ZM1848.97 1049H1858.6V1052.21H1848.97ZM1852.18 1055.42H1861.81V1061.83H1852.18ZM1852.18 1061.83H1865.02V1068.25H1852.18ZM1855.39 1068.25H1865.02V1071.46H1855.39ZM1858.6 1074.67H1868.22V1090.72H1858.6ZM1865.02 1093.93H1874.64V1109.97H1865.02ZM1868.22 1113.18H1877.85V1116.39H1868.22ZM1868.22 1116.39H1881.06V1122.81H1868.22ZM1871.43 1122.81H1881.06V1129.23H1871.43ZM1871.43 1135.65H1881.06V1142.07H1871.43ZM1871.43 1142.07H1884.27V1148.49H1871.43ZM1874.64 1148.49H1884.27V1151.7H1874.64ZM1874.64 1154.91H1884.27V1158.12H1874.64ZM1874.64 1158.12H1887.48V1164.53H1874.64ZM1877.85 1164.53H1887.48V1170.95H1877.85ZM1877.85 1174.16H1887.48V1180.58H1877.85ZM1877.85 1180.58H1890.69V1187H1877.85ZM1881.06 1187H1890.69V1190.21H1881.06ZM1881.06 1196.63H1890.69V1199.84H1881.06ZM1881.06 1199.84H1893.9V1206.26H1881.06ZM1884.27 1206.26H1893.9V1212.67H1884.27ZM1887.48 1219.09H1897.11V1235.14H1887.48ZM1890.69 1238.35H1900.32V1244.77H1890.69ZM1890.69 1244.77H1903.53V1251.19H1890.69ZM1893.9 1251.19H1903.53V1254.4H1893.9ZM1897.11 1257.61H1906.74V1273.65H1897.11ZM1900.32 1276.86H1909.95V1280.07H1900.32ZM1900.32 1280.07H1913.16V1286.49H1900.32ZM1903.53 1286.49H1913.16V1292.91H1903.53ZM1906.74 1296.12H1916.37V1312.17H1906.74ZM1909.95 1315.37H1919.57V1321.79H1909.95ZM1909.95 1321.79H1922.78V1328.21H1909.95ZM1913.16 1328.21H1922.78V1331.42H1913.16ZM1916.37 1334.63H1925.99V1350.68H1916.37ZM1919.57 1353.89H1929.2V1357.1H1919.57ZM1919.57 1357.1H1932.41V1363.52H1919.57ZM1922.78 1363.52H1932.41V1369.93H1922.78ZM1925.99 1373.14H1935.62V1389.19H1925.99ZM1929.2 1392.4H1938.83V1398.82H1929.2ZM1929.2 1398.82H1942.04V1405.24H1929.2ZM1932.41 1405.24H1942.04V1408.45H1932.41ZM1938.83 1414.87H1948.46V1418.07H1938.83ZM1938.83 1418.07H1951.67V1424.49H1938.83ZM1942.04 1424.49H1951.67V1430.91H1942.04ZM1945.25 1434.12H1954.88V1437.33H1945.25ZM1945.25 1437.33H1958.09V1443.75H1945.25ZM1948.46 1443.75H1958.09V1450.17H1948.46ZM1951.67 1453.38H1961.3V1456.59H1951.67ZM1951.67 1456.59H1964.51V1463.01H1951.67ZM1954.88 1463.01H1964.51V1469.42H1954.88ZM1958.09 1475.84H1967.72V1479.05H1958.09ZM1958.09 1479.05H1970.92V1485.47H1958.09ZM1961.3 1485.47H1970.92V1491.89H1961.3ZM1964.51 1495.1H1974.13V1498.31H1964.51ZM1964.51 1498.31H1977.34V1504.73H1964.51ZM1967.72 1504.73H1977.34V1511.15H1967.72ZM1974.13 1514.36H1983.76V1530.4H1974.13ZM1980.55 1533.61H1990.18V1549.66H1980.55ZM1986.97 1552.87H1996.6V1559.29H1986.97ZM1986.97 1559.29H1999.81V1565.71H1986.97ZM1990.18 1565.71H1999.81V1568.92H1990.18ZM1993.39 1572.12H2003.02V1578.54H1993.39ZM1993.39 1578.54H2006.23V1584.96H1993.39ZM1996.6 1584.96H2006.23V1588.17H1996.6ZM2009.44 1597.8H2019.07V1601.01H2009.44ZM2009.44 1601.01H2022.27V1604.22H2009.44ZM2009.44 1604.22H2025.48V1607.43H2009.44ZM2012.65 1607.43H2025.48V1610.64H2012.65ZM2015.86 1610.64H2025.48V1613.85H2015.86ZM2025.48 1617.06H2035.11V1623.47H2025.48ZM2025.48 1623.47H2038.32V1629.89H2025.48ZM2028.69 1629.89H2038.32V1633.1H2028.69ZM2038.32 1639.52H2047.95V1642.73H2038.32ZM2038.32 1642.73H2051.16V1645.94H2038.32ZM2038.32 1645.94H2054.37V1649.15H2038.32ZM2041.53 1649.15H2054.37V1652.36H2041.53ZM2044.74 1652.36H2054.37V1655.57H2044.74ZM2054.37 1658.78H2067.21V1661.99H2054.37ZM2054.37 1661.99H2070.42V1668.41H2054.37ZM2060.79 1668.41H2070.42V1671.62H2060.79ZM2076.83 1671.62H2089.67V1674.82H2076.83ZM2076.83 1674.82H2092.88V1681.24H2076.83ZM2083.25 1681.24H2092.88V1684.45H2083.25ZM2096.09 1681.24H2105.72V1684.45H2096.09ZM2096.09 1684.45H2112.14V1690.87H2096.09ZM2099.3 1690.87H2112.14V1694.08H2099.3ZM2115.35 1690.87H2128.18V1694.08H2115.35ZM2115.35 1694.08H2131.39V1700.5H2115.35ZM2121.77 1700.5H2131.39V1703.71H2121.77ZM2137.81 1700.5H2153.86V1710.13H2137.81ZM2157.07 1706.92H2173.12V1716.55H2157.07ZM2176.32 1713.34H2192.37V1722.97H2176.32ZM2198.79 1713.34H2214.84V1722.97H2198.79ZM2221.26 1713.34H2237.3V1722.97H2221.26ZM2256.56 1713.34H2272.61V1722.97H2256.56ZM2279.02 1713.34H2295.07V1722.97H2279.02Z"/>
<path fill="#dd0806" d="M571.64 160H587.68V163.21H571.64ZM571.64 185.68H587.68V188.88H571.64ZM757.78 160H773.83V163.21H757.78ZM757.78 185.68H773.83V188.88H757.78ZM568.43 163.21H590.89V166.42H568.43ZM568.43 182.47H590.89V185.68H568.43ZM754.57 163.21H777.04V166.42H754.57ZM754.57 182.47H777.04V185.68H754.57ZM565.22 166.42H594.1V182.47H565.22ZM751.36 166.42H780.25V182.47H751.36ZM940.72 169.63H956.76V172.84H940.72ZM940.72 195.3H956.76V198.51H940.72ZM937.51 172.84H959.97V176.05H937.51ZM937.51 192.09H959.97V195.3H937.51ZM934.3 176.05H963.18V192.09H934.3ZM1126.86 281.96H1142.91V285.17H1126.86ZM1126.86 307.63H1142.91V310.84H1126.86ZM1123.65 285.17H1146.12V288.38H1123.65ZM1123.65 304.42H1146.12V307.63H1123.65ZM1120.44 288.38H1149.32V304.42H1120.44ZM1313 606.1H1329.05V609.31H1313ZM1313 631.78H1329.05V634.99H1313ZM1309.79 609.31H1332.26V612.52H1309.79ZM1309.79 628.57H1332.26V631.78H1309.79ZM1306.58 612.52H1335.47V628.57H1306.58ZM1495.94 1328.21H1511.98V1331.42H1495.94ZM1495.94 1353.89H1511.98V1357.1H1495.94ZM1492.73 1331.42H1515.19V1334.63H1492.73ZM1492.73 1350.68H1515.19V1353.89H1492.73ZM1489.52 1334.63H1518.4V1350.68H1489.52ZM1682.08 1485.47H1698.13V1488.68H1682.08ZM1682.08 1511.15H1698.13V1514.36H1682.08ZM1678.87 1488.68H1701.34V1491.89H1678.87ZM1678.87 1507.94H1701.34V1511.15H1678.87ZM1675.66 1491.89H1704.55V1507.94H1675.66ZM1865.02 1507.94H1881.06V1511.15H1865.02ZM1865.02 1533.61H1881.06V1536.82H1865.02ZM2051.16 1507.94H2067.21V1511.15H2051.16ZM2051.16 1533.61H2067.21V1536.82H2051.16ZM2237.3 1507.94H2253.35V1511.15H2237.3ZM2237.3 1533.61H2253.35V1536.82H2237.3ZM1861.81 1511.15H1884.27V1514.36H1861.81ZM1861.81 1530.4H1884.27V1533.61H1861.81ZM2047.95 1511.15H2070.42V1514.36H2047.95ZM2047.95 1530.4H2070.42V1533.61H2047.95ZM2234.09 1511.15H2256.56V1514.36H2234.09ZM2234.09 1530.4H2256.56V1533.61H2234.09ZM1858.6 1514.36H1887.48V1530.4H1858.6ZM2044.74 1514.36H2073.62V1530.4H2044.74ZM2230.88 1514.36H2259.77V1530.4H2230.88Z"/>
<path fill="#0000d4" d="M504.24 111.86H533.12V140.74H504.24ZM626.2 111.86H655.08V140.74H626.2ZM751.36 111.86H780.25V140.74H751.36ZM873.32 115.07H902.2V143.95H873.32ZM998.48 185.68H1027.37V214.56H998.48ZM1120.44 301.21H1149.32V330.1H1120.44ZM1242.4 477.73H1271.28V506.61H1242.4ZM1367.56 824.34H1396.45V853.22H1367.56ZM1489.52 1280.07H1518.4V1308.96H1489.52ZM1614.68 1363.52H1643.57V1392.4H1614.68ZM1736.64 1363.52H1765.53V1392.4H1736.64ZM1858.6 1363.52H1887.48V1392.4H1858.6ZM1983.76 1363.52H2012.65V1392.4H1983.76ZM2105.72 1363.52H2134.6V1392.4H2105.72ZM2230.88 1363.52H2259.77V1392.4H2230.88Z"/>
<path fill="#06621b" d="M517.08 95.81H520.29V99.02H517.08ZM517.08 121.49H520.29V124.7H517.08ZM578.06 95.81H581.27V99.02H578.06ZM578.06 121.49H581.27V124.7H578.06ZM639.03 95.81H642.24V99.02H639.03ZM639.03 121.49H642.24V124.7H639.03ZM764.2 95.81H767.41V99.02H764.2ZM764.2 121.49H767.41V124.7H764.2ZM825.18 95.81H828.39V99.02H825.18ZM825.18 121.49H828.39V124.7H825.18ZM886.16 95.81H889.37V99.02H886.16ZM886.16 121.49H889.37V124.7H886.16ZM947.13 95.81H950.34V99.02H947.13ZM947.13 121.49H950.34V124.7H947.13ZM513.87 99.02H523.5V102.23H513.87ZM513.87 118.28H523.5V121.49H513.87ZM574.85 99.02H584.48V102.23H574.85ZM574.85 118.28H584.48V121.49H574.85ZM635.83 99.02H645.45V102.23H635.83ZM635.83 118.28H645.45V121.49H635.83ZM760.99 99.02H770.62V102.23H760.99ZM760.99 118.28H770.62V121.49H760.99ZM821.97 99.02H831.6V102.23H821.97ZM821.97 118.28H831.6V121.49H821.97ZM882.95 99.02H892.58V102.23H882.95ZM882.95 118.28H892.58V121.49H882.95ZM943.92 99.02H953.55V102.23H943.92ZM943.92 118.28H953.55V121.49H943.92ZM1011.32 99.02H1014.53V102.23H1011.32ZM1011.32 124.7H1014.53V127.91H1011.32ZM510.66 102.23H526.71V105.44H510.66ZM510.66 115.07H526.71V118.28H510.66ZM571.64 102.23H587.68V105.44H571.64ZM571.64 115.07H587.68V118.28H571.64ZM632.62 102.23H648.66V105.44H632.62ZM632.62 115.07H648.66V118.28H632.62ZM757.78 102.23H773.83V105.44H757.78ZM757.78 115.07H773.83V118.28H757.78ZM818.76 102.23H834.81V105.44H818.76ZM818.76 115.07H834.81V118.28H818.76ZM879.74 102.23H895.78V105.44H879.74ZM879.74 115.07H895.78V118.28H879.74ZM940.72 102.23H956.76V105.44H940.72ZM940.72 115.07H956.76V118.28H940.72ZM1008.11 102.23H1017.74V105.44H1008.11ZM1008.11 121.49H1017.74V124.7H1008.11ZM507.45 105.44H529.92V108.65H507.45ZM507.45 111.86H529.92V115.07H507.45ZM568.43 105.44H590.89V108.65H568.43ZM568.43 111.86H590.89V115.07H568.43ZM629.41 105.44H651.87V108.65H629.41ZM629.41 111.86H651.87V115.07H629.41ZM754.57 105.44H777.04V108.65H754.57ZM754.57 111.86H777.04V115.07H754.57ZM815.55 105.44H838.02V108.65H815.55ZM815.55 111.86H838.02V115.07H815.55ZM876.53 105.44H898.99V108.65H876.53ZM876.53 111.86H898.99V115.07H876.53ZM937.51 105.44H959.97V108.65H937.51ZM937.51 111.86H959.97V115.07H937.51ZM1004.9 105.44H1020.95V108.65H1004.9ZM1004.9 118.28H1020.95V121.49H1004.9ZM504.24 108.65H533.12V111.86H504.24ZM565.22 108.65H594.1V111.86H565.22ZM626.2 108.65H655.08V111.86H626.2ZM751.36 108.65H780.25V111.86H751.36ZM812.34 108.65H841.22V111.86H812.34ZM873.32 108.65H902.2V111.86H873.32ZM934.3 108.65H963.18V111.86H934.3ZM1001.69 108.65H1024.16V111.86H1001.69ZM1001.69 115.07H1024.16V118.28H1001.69ZM998.48 111.86H1027.37V115.07H998.48ZM1133.28 137.53H1136.49V140.74H1133.28ZM1133.28 163.21H1136.49V166.42H1133.28ZM1130.07 140.74H1139.7V143.95H1130.07ZM1130.07 160H1139.7V163.21H1130.07ZM1194.26 140.74H1197.47V143.95H1194.26ZM1194.26 166.42H1197.47V169.63H1194.26ZM1126.86 143.95H1142.91V147.16H1126.86ZM1126.86 156.79H1142.91V160H1126.86ZM1191.05 143.95H1200.67V147.16H1191.05ZM1191.05 163.21H1200.67V166.42H1191.05ZM1123.65 147.16H1146.12V150.37H1123.65ZM1123.65 153.58H1146.12V156.79H1123.65ZM1187.84 147.16H1203.88V150.37H1187.84ZM1187.84 160H1203.88V163.21H1187.84ZM1120.44 150.37H1149.32V153.58H1120.44ZM1184.63 150.37H1207.09V153.58H1184.63ZM1184.63 156.79H1207.09V160H1184.63ZM1181.42 153.58H1210.3V156.79H1181.42ZM1255.23 176.05H1258.44V179.26H1255.23ZM1255.23 201.72H1258.44V204.93H1255.23ZM1252.03 179.26H1261.65V182.47H1252.03ZM1252.03 198.51H1261.65V201.72H1252.03ZM1248.82 182.47H1264.86V185.68H1248.82ZM1248.82 195.3H1264.86V198.51H1248.82ZM1245.61 185.68H1268.07V188.88H1245.61ZM1245.61 192.09H1268.07V195.3H1245.61ZM1242.4 188.88H1271.28V192.09H1242.4ZM1319.42 195.3H1322.63V198.51H1319.42ZM1319.42 220.98H1322.63V224.19H1319.42ZM1316.21 198.51H1325.84V201.72H1316.21ZM1316.21 217.77H1325.84V220.98H1316.21ZM1313 201.72H1329.05V204.93H1313ZM1313 214.56H1329.05V217.77H1313ZM1309.79 204.93H1332.26V208.14H1309.79ZM1309.79 211.35H1332.26V214.56H1309.79ZM1306.58 208.14H1335.47V211.35H1306.58ZM1380.4 227.4H1383.61V230.61H1380.4ZM1380.4 253.07H1383.61V256.28H1380.4ZM1377.19 230.61H1386.82V233.82H1377.19ZM1377.19 249.86H1386.82V253.07H1377.19ZM1373.98 233.82H1390.03V237.02H1373.98ZM1373.98 246.65H1390.03V249.86H1373.98ZM1370.77 237.02H1393.24V240.23H1370.77ZM1370.77 243.44H1393.24V246.65H1370.77ZM1367.56 240.23H1396.45V243.44H1367.56ZM1502.36 314.05H1505.57V317.26H1502.36ZM1502.36 339.72H1505.57V342.93H1502.36ZM1499.15 317.26H1508.78V320.47H1499.15ZM1499.15 336.52H1508.78V339.72H1499.15ZM1495.94 320.47H1511.98V323.68H1495.94ZM1495.94 333.31H1511.98V336.52H1495.94ZM1492.73 323.68H1515.19V326.89H1492.73ZM1492.73 330.1H1515.19V333.31H1492.73ZM1489.52 326.89H1518.4V330.1H1489.52ZM1563.33 358.98H1566.54V362.19H1563.33ZM1563.33 384.66H1566.54V387.87H1563.33ZM1560.12 362.19H1569.75V365.4H1560.12ZM1560.12 381.45H1569.75V384.66H1560.12ZM1556.92 365.4H1572.96V368.61H1556.92ZM1556.92 378.24H1572.96V381.45H1556.92ZM1553.71 368.61H1576.17V371.82H1553.71ZM1553.71 375.03H1576.17V378.24H1553.71ZM1550.5 371.82H1579.38V375.03H1550.5ZM1627.52 442.42H1630.73V445.63H1627.52ZM1627.52 468.1H1630.73V471.31H1627.52ZM1624.31 445.63H1633.94V448.84H1624.31ZM1624.31 464.89H1633.94V468.1H1624.31ZM1621.1 448.84H1637.15V452.05H1621.1ZM1621.1 461.68H1637.15V464.89H1621.1ZM1617.89 452.05H1640.36V455.26H1617.89ZM1617.89 458.47H1640.36V461.68H1617.89ZM1614.68 455.26H1643.57V458.47H1614.68ZM1688.5 516.24H1691.71V519.45H1688.5ZM1688.5 541.92H1691.71V545.12H1688.5ZM1685.29 519.45H1694.92V522.66H1685.29ZM1685.29 538.71H1694.92V541.92H1685.29ZM1682.08 522.66H1698.13V525.87H1682.08ZM1682.08 535.5H1698.13V538.71H1682.08ZM1678.87 525.87H1701.34V529.08H1678.87ZM1678.87 532.29H1701.34V535.5H1678.87ZM1675.66 529.08H1704.55V532.29H1675.66ZM1749.48 638.2H1752.69V641.41H1749.48ZM1749.48 663.87H1752.69V667.08H1749.48ZM1746.27 641.41H1755.9V644.62H1746.27ZM1746.27 660.66H1755.9V663.87H1746.27ZM1743.06 644.62H1759.11V647.82H1743.06ZM1743.06 657.45H1759.11V660.66H1743.06ZM1739.85 647.82H1762.32V651.03H1739.85ZM1739.85 654.24H1762.32V657.45H1739.85ZM1736.64 651.03H1765.53V654.24H1736.64ZM1871.43 1103.56H1874.64V1106.77H1871.43ZM1871.43 1129.23H1874.64V1132.44H1871.43ZM1868.22 1106.77H1877.85V1109.97H1868.22ZM1868.22 1126.02H1877.85V1129.23H1868.22ZM1865.02 1109.97H1881.06V1113.18H1865.02ZM1865.02 1122.81H1881.06V1126.02H1865.02ZM1861.81 1113.18H1884.27V1116.39H1861.81ZM1861.81 1119.6H1884.27V1122.81H1861.81ZM1858.6 1116.39H1887.48V1119.6H1858.6ZM1935.62 1382.77H1938.83V1385.98H1935.62ZM1935.62 1408.45H1938.83V1411.66H1935.62ZM1932.41 1385.98H1942.04V1389.19H1932.41ZM1932.41 1405.24H1942.04V1408.45H1932.41ZM1929.2 1389.19H1945.25V1392.4H1929.2ZM1929.2 1402.03H1945.25V1405.24H1929.2ZM1925.99 1392.4H1948.46V1395.61H1925.99ZM1925.99 1398.82H1948.46V1402.03H1925.99ZM1922.78 1395.61H1951.67V1398.82H1922.78ZM1996.6 1562.5H1999.81V1565.71H1996.6ZM1996.6 1588.17H1999.81V1591.38H1996.6ZM1993.39 1565.71H2003.02V1568.92H1993.39ZM1993.39 1584.96H2003.02V1588.17H1993.39ZM1990.18 1568.92H2006.23V1572.12H1990.18ZM1990.18 1581.75H2006.23V1584.96H1990.18ZM1986.97 1572.12H2009.44V1575.33H1986.97ZM1986.97 1578.54H2009.44V1581.75H1986.97ZM1983.76 1575.33H2012.65V1578.54H1983.76ZM2057.58 1649.15H2060.79V1652.36H2057.58ZM2057.58 1674.82H2060.79V1678.03H2057.58ZM2054.37 1652.36H2064V1655.57H2054.37ZM2054.37 1671.62H2064V1674.82H2054.37ZM2051.16 1655.57H2067.21V1658.78H2051.16ZM2051.16 1668.41H2067.21V1671.62H2051.16ZM2047.95 1658.78H2070.42V1661.99H2047.95ZM2047.95 1665.2H2070.42V1668.41H2047.95ZM2044.74 1661.99H2073.62V1665.2H2044.74ZM2118.56 1681.24H2121.77V1684.45H2118.56ZM2118.56 1706.92H2121.77V1710.13H2118.56ZM2115.35 1684.45H2124.97V1687.66H2115.35ZM2115.35 1703.71H2124.97V1706.92H2115.35ZM2112.14 1687.66H2128.18V1690.87H2112.14ZM2112.14 1700.5H2128.18V1703.71H2112.14ZM2108.93 1690.87H2131.39V1694.08H2108.93ZM2108.93 1697.29H2131.39V1700.5H2108.93ZM2105.72 1694.08H2134.6V1697.29H2105.72ZM2243.72 1703.71H2246.93V1706.92H2243.72ZM2243.72 1729.38H2246.93V1732.59H2243.72ZM2304.7 1703.71H2307.91V1706.92H2304.7ZM2304.7 1729.38H2307.91V1732.59H2304.7ZM2240.51 1706.92H2250.14V1710.13H2240.51ZM2240.51 1726.17H2250.14V1729.38H2240.51ZM2301.49 1706.92H2311.12V1710.13H2301.49ZM2301.49 1726.17H2311.12V1729.38H2301.49ZM2237.3 1710.13H2253.35V1713.34H2237.3ZM2237.3 1722.97H2253.35V1726.17H2237.3ZM2298.28 1710.13H2314.33V1713.34H2298.28ZM2298.28 1722.97H2314.33V1726.17H2298.28ZM2234.09 1713.34H2256.56V1716.55H2234.09ZM2234.09 1719.76H2256.56V1722.97H2234.09ZM2295.07 1713.34H2317.54V1716.55H2295.07ZM2295.07 1719.76H2317.54V1722.97H2295.07ZM2230.88 1716.55H2259.77V1719.76H2230.88ZM2291.86 1716.55H2320.75V1719.76H2291.86Z"/>
<path fill="#dd0806" d="M770.62 1312.17H786.67V1315.37H770.62ZM770.62 1337.84H786.67V1341.05H770.62ZM767.41 1315.37H789.88V1318.58H767.41ZM767.41 1334.63H789.88V1337.84H767.41ZM764.2 1318.58H793.08V1321.79H764.2ZM764.2 1331.42H793.08V1334.63H764.2ZM683.97 1321.79H700.01V1331.42H683.97ZM706.43 1321.79H722.48V1331.42H706.43ZM728.9 1321.79H744.94V1331.42H728.9ZM751.36 1321.79H805.92V1331.42H751.36ZM809.13 1321.79H825.18V1331.42H809.13ZM828.39 1321.79H844.43V1331.42H828.39ZM847.64 1321.79H863.69V1331.42H847.64Z"/>
<path fill="#0000d4" d="M764.2 1395.61H793.08V1405.24H764.2ZM764.2 1414.87H793.08V1424.49H764.2ZM683.97 1405.24H700.01V1414.87H683.97ZM706.43 1405.24H722.48V1414.87H706.43ZM728.9 1405.24H744.94V1414.87H728.9ZM751.36 1405.24H805.92V1414.87H751.36ZM809.13 1405.24H825.18V1414.87H809.13ZM828.39 1405.24H844.43V1414.87H828.39ZM847.64 1405.24H863.69V1414.87H847.64Z"/>
<path fill="#000000" d="M683.97 1485.47H870.11V1495.1H683.97Z"/>
<path fill="#06621b" d="M777.04 1559.29H780.25V1562.5H777.04ZM777.04 1584.96H780.25V1588.17H777.04ZM773.83 1562.5H783.46V1565.71H773.83ZM773.83 1581.75H783.46V1584.96H773.83ZM770.62 1565.71H786.67V1568.92H770.62ZM770.62 1578.54H786.67V1581.75H770.62ZM683.97 1568.92H700.01V1578.54H683.97ZM706.43 1568.92H722.48V1578.54H706.43ZM728.9 1568.92H744.94V1578.54H728.9ZM751.36 1568.92H805.92V1578.54H751.36ZM809.13 1568.92H825.18V1578.54H809.13ZM828.39 1568.92H844.43V1578.54H828.39ZM847.64 1568.92H863.69V1578.54H847.64Z"/>
</g>
<g>
<text transform="translate(407.5 79.5) scale(1 1.035)" text-anchor="end">9.5</text>
<text transform="translate(407.5 342.6) scale(1 1.035)" text-anchor="end">9</text>
<text transform="translate(407.5 609.0) scale(1 1.035)" text-anchor="end">8.5</text>
<text transform="translate(407.5 872.2) scale(1 1.035)" text-anchor="end">8</text>
<text transform="translate(407.5 1135.3) scale(1 1.035)" text-anchor="end">7.5</text>
<text transform="translate(407.5 1398.5) scale(1 1.035)" text-anchor="end">7</text>
<text transform="translate(407.5 1664.9) scale(1 1.035)" text-anchor="end">6.5</text>
<text transform="translate(407.5 1928.1) scale(1 1.035)" text-anchor="end">6</text>
<text transform="translate(456.7 2012.2) scale(1 1.035)" text-anchor="middle">-15</text>
<text transform="translate(764.8 2012.2) scale(1 1.035)" text-anchor="middle">-10</text>
<text transform="translate(1072.9 2012.2) scale(1 1.035)" text-anchor="middle">-5</text>
<text transform="translate(1381.0 2012.2) scale(1 1.035)" text-anchor="middle">0</text>
<text transform="translate(1689.1 2012.2) scale(1 1.035)" text-anchor="middle">5</text>
<text transform="translate(1997.2 2012.2) scale(1 1.035)" text-anchor="middle">10</text>
<text transform="translate(2305.3 2012.2) scale(1 1.035)" text-anchor="middle">15</text>
<text transform="translate(1381.6 2204.7) scale(1 1.035)" text-anchor="middle">Log(t) (sec)</text>
<text transform="translate(86.4 978.5) rotate(-90) scale(1 1.035)" text-anchor="middle" xml:space="preserve">Log[E(t)]  <tspan dx="-3.5">(Pa)</tspan></text>
<text transform="translate(882.0 1350.5) scale(1 1.035)" text-anchor="start" style="fill:#dd0806">Polymer A</text>
<text transform="translate(882.0 1433.6) scale(1 1.035)" text-anchor="start" style="fill:#0000d4">Polymer B</text>
<text transform="translate(882.0 1514.1) scale(1 1.035)" text-anchor="start" style="fill:#000000">Polymer C</text>
<text transform="translate(882.0 1597.2) scale(1 1.035)" text-anchor="start" style="fill:#06621b">Polymer D</text>
</g>
</svg>
</body>
</html>
